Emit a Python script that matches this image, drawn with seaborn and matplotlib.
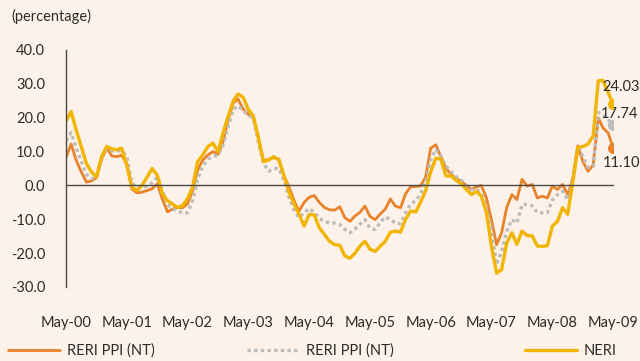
import numpy as np
import pandas as pd
import seaborn as sns
import matplotlib.pyplot as plt
import matplotlib.dates as mdates

# monthly series, May-2000 .. May-2009
reri_ppi = [8.2, 12.2, 7.5, 4.0, 1.0, 1.3, 2.3, 7.7, 11.0, 8.7, 8.5, 8.9,
            6.5, -1.0, -2.2, -2.0, -1.5, -1.0, 0.5, -4.0, -7.8, -7.0, -6.5, -6.6,
            -5.5, -1.5, 4.5, 7.5, 9.0, 10.0, 9.2, 13.0, 19.5, 24.5, 25.5, 22.5,
            21.0, 20.0, 14.2, 7.2, 7.7, 8.2, 7.8, 3.0, -0.5, -4.5, -7.6, -5.0,
            -3.5, -3.0, -5.0, -6.5, -7.2, -7.3, -6.3, -9.5, -10.6, -9.0, -8.0, -6.1,
            -9.1, -10.1, -8.5, -7.0, -4.0, -6.1, -6.6, -2.5, -0.4, -0.3, -0.2, 2.5,
            11.0, 12.0, 8.5, 5.0, 3.3, 2.0, 1.2, 0.0, -1.2, -0.4, 0.0, -3.7,
            -10.1, -17.5, -14.0, -6.5, -2.7, -4.2, 1.8, -0.2, 0.3, -3.7, -3.2, -3.7,
            -0.2, -1.2, 0.3, -2.7, 2.0, 11.7, 7.0, 4.2, 6.0, 20.0, 17.0, 15.5,
            11.10]

reri_ppi_2 = [13.2, 15.6, 11.2, 7.2, 3.3, 2.0, 2.5, 8.2, 10.7, 10.2, 10.2, 10.2,
              8.7, 0.8, -0.7, -0.7, -0.2, 0.8, 2.5, -1.5, -5.6, -7.0, -7.5, -8.1,
              -8.1, -4.6, 1.8, 5.7, 7.8, 8.5, 9.0, 12.0, 17.5, 22.5, 23.5, 22.0,
              21.0, 19.6, 12.7, 6.5, 4.2, 5.0, 5.0, 1.5, -3.5, -7.3, -9.5, -8.1,
              -6.8, -8.0, -9.8, -10.6, -11.1, -11.1, -11.5, -13.0, -14.0, -12.8, -11.5, -10.1,
              -12.6, -13.0, -11.0, -9.3, -10.0, -11.1, -11.3, -8.1, -5.5, -4.5, -2.5, 1.0,
              7.5, 10.7, 8.7, 5.7, 4.0, 2.5, 1.5, 0.0, -1.2, -1.2, -2.5, -7.0,
              -13.0, -23.4, -19.5, -13.5, -10.1, -11.1, -5.6, -5.6, -6.0, -8.0, -8.1, -8.1,
              -4.2, -2.7, -1.7, -4.2, 1.5, 11.5, 8.5, 5.3, 5.7, 21.5, 21.0, 19.5,
              17.74]

neri = [19.0, 21.8, 16.5, 11.5, 6.5, 4.0, 2.5, 8.5, 11.5, 10.8, 10.5, 11.0,
        6.0, -0.5, -1.5, 0.0, 2.5, 5.0, 3.0, -2.5, -4.5, -5.5, -6.5, -6.0,
        -4.0, -0.5, 7.0, 9.0, 11.5, 12.5, 10.0, 15.5, 20.5, 25.0, 27.0, 26.0,
        22.5, 20.5, 14.0, 7.0, 7.5, 8.5, 7.5, 3.0, -2.0, -5.5, -8.5, -12.0,
        -8.6, -8.7, -12.5, -14.5, -16.5, -17.5, -17.7, -20.8, -21.5, -20.0, -18.0, -16.5,
        -18.8, -19.5, -18.0, -16.5, -13.8, -13.5, -13.8, -10.0, -7.6, -7.8, -5.0, -1.5,
        4.0, 8.0, 7.8, 2.8, 2.8, 1.5, 0.5, -1.2, -2.7, -1.7, -3.2, -8.0,
        -18.0, -25.9, -24.9, -17.0, -14.0, -17.4, -13.5, -14.8, -14.9, -17.9, -18.0, -17.8,
        -12.0, -10.6, -6.6, -8.5, 1.0, 11.2, 11.5, 12.2, 14.6, 30.9, 31.0, 27.5,
        24.03]

dates = pd.date_range('2000-05-01', periods=len(neri), freq='MS')
tick_dates = pd.date_range('2000-05-01', '2009-05-01', freq='12MS')
y_ticks = [-30, -20, -10, 0, 10, 20, 30, 40]

bg = '#FDF2E9'
c_orange = '#E8832B'
c_grey = '#BCBCBC'
c_yellow = '#F1B500'
txt = '#2B2B2B'

sns.set_style('white', {'axes.facecolor': bg, 'figure.facecolor': bg})
plt.rcParams['font.family'] = ['Lato', 'DejaVu Sans']

df = pd.DataFrame({'Date': dates, 'RERI PPI (NT)': reri_ppi,
                   'RERI PPI (NT) ': reri_ppi_2, 'NERI': neri})

fig = plt.figure(figsize=(6.4, 3.61), dpi=100)
ax = fig.add_axes([0.103, 0.205, 0.855, 0.6565])

sns.lineplot(data=df, x='Date', y='RERI PPI (NT)', color=c_orange, lw=2.0, ax=ax)
sns.lineplot(data=df, x='Date', y='RERI PPI (NT) ', color=c_grey, lw=2.4, ax=ax)
ax.lines[-1].set_dashes((1, 1))
ax.lines[-1].set_dash_capstyle('butt')
sns.lineplot(data=df, x='Date', y='NERI', color=c_yellow, lw=2.4, ax=ax)

# end markers and labels
last = df.iloc[-1]
ends = [('RERI PPI (NT)', c_orange, (-10, -15)),
        ('RERI PPI (NT) ', c_grey, (-12, 11)),
        ('NERI', c_yellow, (-11, 17))]
for col, c, off in ends:
    ax.plot(last['Date'], last[col], 'o', color=c, ms=7, zorder=5)
    ax.annotate(f'{last[col]:.2f}', (last['Date'], last[col]), xytext=off,
                textcoords='offset pixels', ha='left', va='center',
                fontsize=10.5, color=txt)

ax.set_xlim(dates[0], dates[-1])
ax.set_ylim(-30, 40)
ax.set_yticks(y_ticks)
ax.set_yticklabels([f'{v:.1f}' for v in y_ticks])
ax.set_xticks(tick_dates)
ax.xaxis.set_major_formatter(mdates.DateFormatter('%b-%y'))
ax.set_xlabel('')
ax.set_ylabel('')

for s in ['top', 'right']:
    ax.spines[s].set_visible(False)
ax.spines['bottom'].set_position(('data', 0))
for s in ['left', 'bottom']:
    ax.spines[s].set_color('#4A4A4A')
    ax.spines[s].set_linewidth(1.0)

ax.tick_params(axis='x', direction='in', length=3, width=1, color='#4A4A4A',
               pad=94, labelsize=10.5, labelcolor=txt)
ax.tick_params(axis='y', direction='in', length=3, width=1, color='#4A4A4A',
               pad=15, labelsize=10.5, labelcolor=txt)
for lab in ax.get_xticklabels():
    lab.set_va('top')

fig.text(0.018, 0.953, '(percentage)', fontsize=10.5, color=txt, va='center')

# legend, three entries spread along the bottom
h = ax.lines
spots = [(0, 0.012), (1, 0.386), (2, 0.820)]
for idx, x0 in spots:
    leg = fig.legend([h[idx]], [['RERI PPI (NT)', 'RERI PPI (NT)', 'NERI'][idx]],
                     loc='center left', bbox_to_anchor=(x0, 0.028),
                     frameon=False, fontsize=10.5, handlelength=3.6,
                     handletextpad=0.45, borderpad=0, borderaxespad=0,
                     labelcolor=txt)

fig.savefig('out.png', dpi=100, facecolor=bg)
